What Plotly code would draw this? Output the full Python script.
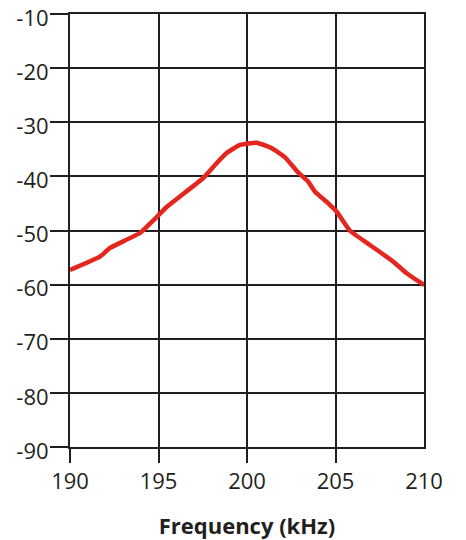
import plotly.graph_objects as go

freq_khz = [190.0, 191.69, 192.26, 193.95, 194.90, 195.46, 197.53, 198.19, 198.85, 199.60,
            200.55, 201.40, 202.15, 202.90, 203.46, 203.84, 204.59, 205.07, 205.82, 206.95,
            208.27, 209.02, 210.0]
level_db = [-57.3, -54.84, -53.23, -50.46, -47.51, -45.66, -40.30, -37.90, -35.68, -34.20,
            -33.78, -34.81, -36.48, -39.32, -40.98, -42.83, -44.97, -46.53, -50.04, -52.68,
            -55.76, -57.91, -60.07]
x_ticks = [190, 195, 200, 205, 210]
x_tick_marks = [190, 195, 200, 205]
y_ticks = [-10, -20, -30, -40, -50, -60, -70, -80, -90]
y_tick_labels = ["-10", "-20", "-30", "-40", "-50", "-60", "-70", "-80", "-90"]

ink = "#231f20"
font_family = "Open Sans"

fig = go.Figure()
fig.add_trace(go.Scatter(x=freq_khz, y=level_db, mode="lines",
                         line=dict(color="#e5261f", width=4.5, shape="spline", smoothing=0.4),
                         showlegend=False, hoverinfo="skip", cliponaxis=False))
fig.add_trace(go.Scatter(x=[], y=[], xaxis="x2", showlegend=False, hoverinfo="skip"))

fig.update_layout(
    width=466, height=540,
    margin=dict(l=70, r=42, t=14, b=93),
    paper_bgcolor="white", plot_bgcolor="white",
    font=dict(family=font_family, color=ink, size=22),
    hovermode=False,
    xaxis=dict(range=[190, 210], tickvals=x_ticks, ticks="", showgrid=True, automargin=False,
               gridcolor=ink, gridwidth=2, showline=True, linecolor=ink, linewidth=2,
               mirror=True, zeroline=False, tickfont=dict(size=22, color=ink),
               ticklabelstandoff=14, ticklabeloverflow="allow",
               title=dict(text="<b>Frequency (kHz)</b>", font=dict(size=22, color=ink), standoff=26)),
    xaxis2=dict(range=[190, 210], overlaying="x", anchor="y", side="bottom", automargin=False,
                tickvals=x_tick_marks, ticks="outside", ticklen=15, tickwidth=2,
                tickcolor=ink, showticklabels=False, showgrid=False, zeroline=False,
                showline=False),
    yaxis=dict(range=[-90, -10], tickvals=y_ticks, ticktext=y_tick_labels, ticks="outside",
               ticklen=18, automargin=False, ticklabeloverflow="allow",
               tickwidth=2, tickcolor=ink, showgrid=True, gridcolor=ink, gridwidth=2,
               showline=True, linecolor=ink, linewidth=2, mirror=True, zeroline=False,
               tickfont=dict(size=22, color=ink), ticklabelstandoff=-3, ticklabelshift=4),
)

# remove the browser's default 8px body margin so the figure fills the window exactly
fig.write_html("out.html", config={"displayModeBar": False},
               post_script="document.body.style.margin='0';document.body.style.overflow='hidden';")
